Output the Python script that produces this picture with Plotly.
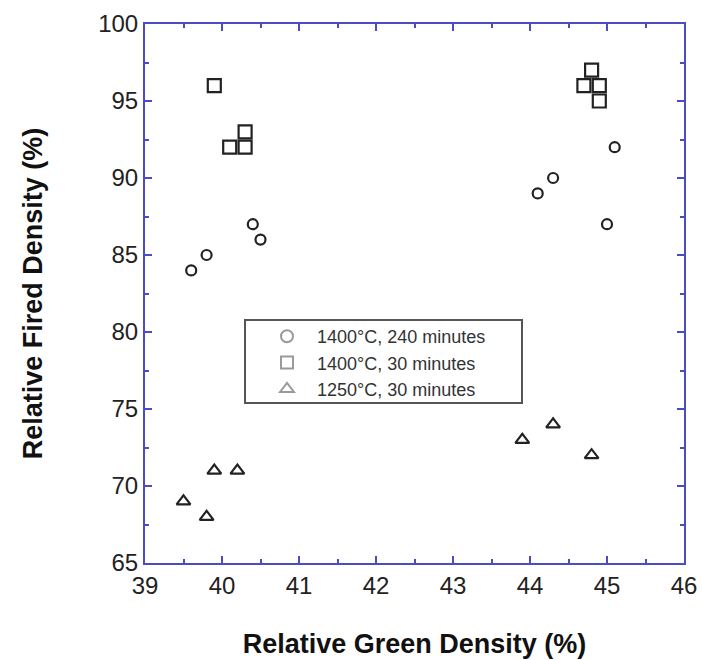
import plotly.graph_objects as go

# Relative green density (%) vs relative fired density (%)
circ_x = [39.6, 39.8, 40.4, 40.5, 44.1, 44.3, 45.1, 45.0]
circ_y = [84, 85, 87, 86, 89, 90, 92, 87]

sq_x = [39.9, 40.1, 40.3, 40.3, 44.7, 44.8, 44.9, 44.9]
sq_y = [96, 92, 92, 93, 96, 97, 96, 95]

tri_x = [39.5, 39.8, 39.9, 40.2, 43.9, 44.3, 44.8]
tri_y = [69, 68, 71, 71, 73, 74, 72]

series_names = ["1400°C, 240 minutes", "1400°C, 30 minutes", "1250°C, 30 minutes"]

x_ticks = [39, 40, 41, 42, 43, 44, 45, 46]
y_ticks = [65, 70, 75, 80, 85, 90, 95, 100]

AXIS_BLUE = "#4b4bc4"
FONT = "Liberation Sans, Arial, sans-serif"

W, H = 702, 660
ML, MR, MT, MB = 145, 18, 24, 97
PW, PH = W - ML - MR, H - MT - MB


def px_x(v):
    return (v - ML) / PW


def px_y(v):
    return 1 - (v - MT) / PH


fig = go.Figure()

specs = [
    (circ_x, circ_y, "circle-open", 10),
    (sq_x, sq_y, "square-open", 13),
    (tri_x, tri_y, "triangle-up-open", 12),
]

for (xs, ys, sym, sz), name in zip(specs, series_names):
    fig.add_trace(go.Scatter(
        x=xs, y=ys, mode="markers", name=name, showlegend=False,
        marker=dict(symbol=sym, size=sz, color="#222222",
                    line=dict(width=2.2, color="#222222")),
    ))

# Legend entries drawn with lighter grey symbols
for (xs, ys, sym, sz), name in zip(specs, series_names):
    fig.add_trace(go.Scatter(
        x=[None], y=[None], mode="markers", name=name,
        marker=dict(symbol=sym, size=sz - 2, color="#9a9a9a",
                    line=dict(width=1.2, color="#9a9a9a")),
    ))

axis_common = dict(
    showgrid=False, zeroline=False, automargin=False,
    showline=True, linecolor=AXIS_BLUE, linewidth=2, mirror="ticks",
    ticks="inside", ticklen=7, tickwidth=2, tickcolor=AXIS_BLUE,
    tickfont=dict(family=FONT, size=24, color="#222222"),
)

fig.update_xaxes(
    range=[39, 46], tickvals=x_ticks, ticktext=[str(v) for v in x_ticks],
    minor=dict(dtick=0.5, ticks="inside", ticklen=4, tickwidth=2,
               tickcolor=AXIS_BLUE, showgrid=False),
    title=dict(text="<b>Relative Green Density (%)</b>", standoff=36,
               font=dict(family=FONT, size=27, color="#111111")),
    **axis_common,
)
fig.update_yaxes(
    range=[65, 100], tickvals=y_ticks, ticktext=[str(v) for v in y_ticks],
    minor=dict(dtick=2.5, ticks="inside", ticklen=4, tickwidth=2,
               tickcolor=AXIS_BLUE, showgrid=False),
    title=dict(text="<b>Relative Fired Density (%)</b>", standoff=48,
               font=dict(family=FONT, size=27, color="#111111")),
    **axis_common,
)

# Frame around the legend
fig.add_shape(
    type="rect", xref="paper", yref="paper",
    x0=px_x(245), x1=px_x(522), y0=px_y(403), y1=px_y(320),
    line=dict(color="#555555", width=2), fillcolor="white", layer="below",
)

fig.update_layout(
    width=W, height=H,
    margin=dict(l=ML, r=MR, t=MT, b=MB, autoexpand=False),
    paper_bgcolor="white", plot_bgcolor="white",
    legend=dict(
        x=px_x(257), y=px_y(318), xanchor="left", yanchor="top",
        bgcolor="rgba(0,0,0,0)", borderwidth=0,
        font=dict(family=FONT, size=18, color="#333333"),
        itemsizing="constant", itemwidth=50, tracegroupgap=0,
    ),
)

fig.write_html("out.html")
